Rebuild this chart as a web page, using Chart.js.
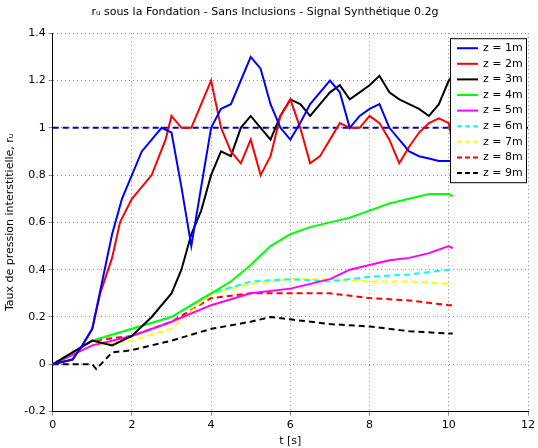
<!DOCTYPE html><html><head><script src="https://cdn.jsdelivr.net/npm/chart.js@4"></script>
<style>body{margin:0;background:#fff}#w{width:538px;height:448px}</style></head><body><div id="w"><canvas id="c"></canvas></div>
<script>
const t1=[0,0.5,0.75,1,1.25,1.5,1.75,2,2.25,2.5,2.75,3,3.25,3.5,3.75,4,4.25,4.5,4.75,5,5.25,5.5,5.75,6,6.25,6.5,6.75,7,7.25,7.5,7.75,8,8.25,8.5,8.75,9,9.25,9.5,9.75,10.1];
const z1=[0,0.02,0.08,0.15,0.35,0.55,0.7,0.8,0.9,0.95,1.0,0.98,0.75,0.5,0.75,1.0,1.08,1.1,1.2,1.3,1.25,1.1,1.0,0.95,1.02,1.1,1.15,1.2,1.15,1.0,1.05,1.08,1.1,1.0,0.95,0.9,0.88,0.87,0.86,0.86];
const t2=[0,0.5,0.75,1,1.2,1.5,1.7,2,2.5,2.85,3,3.25,3.5,3.75,4,4.25,4.5,4.75,5,5.25,5.5,5.75,6,6.25,6.5,6.75,7,7.25,7.5,7.75,8,8.25,8.5,8.75,9,9.25,9.5,9.75,10,10.1];
const z2=[0,0.02,0.08,0.15,0.3,0.45,0.6,0.7,0.8,0.95,1.05,1.0,1.0,1.1,1.2,1.0,0.9,0.85,0.95,0.8,0.88,1.05,1.12,1.0,0.85,0.88,0.95,1.02,1.0,1.0,1.05,1.02,0.95,0.85,0.92,0.98,1.02,1.04,1.02,0.93];
const t3=[0,1,1.5,2,2.5,3,3.25,3.5,3.75,4,4.25,4.5,4.75,5,5.25,5.5,5.75,6,6.25,6.5,6.75,7,7.25,7.5,7.75,8,8.25,8.5,8.75,9,9.25,9.5,9.75,10,10.1];
const z3=[0,0.1,0.08,0.12,0.2,0.3,0.4,0.55,0.65,0.8,0.9,0.88,1.0,1.05,1.0,0.95,1.05,1.12,1.1,1.05,1.1,1.15,1.18,1.12,1.15,1.18,1.22,1.15,1.12,1.1,1.08,1.05,1.1,1.2,1.22];
const t4=[0,1,2,3,3.5,4,4.5,5,5.5,6,6.5,7,7.5,8,8.5,9,9.5,10,10.1];
const z4=[0,0.1,0.15,0.2,0.25,0.3,0.35,0.42,0.5,0.55,0.58,0.6,0.62,0.65,0.68,0.7,0.72,0.72,0.71];
const t5=[0,1,2,3,4,5,6,7,7.5,8,8.5,9,9.5,10,10.1];
const z5=[0,0.08,0.12,0.18,0.25,0.3,0.32,0.36,0.4,0.42,0.44,0.45,0.47,0.5,0.49];
const t6=[0,1,2,3,4,5,6,7,8,9,10,10.1];
const z6=[0,0.1,0.15,0.2,0.3,0.35,0.36,0.35,0.37,0.38,0.4,0.4];
const t7=[0,1,2,3,4,4.5,5,6,7,8,9,10,10.1];
const z7=[0,0.08,0.1,0.15,0.3,0.32,0.34,0.36,0.36,0.35,0.35,0.34,0.34];
const t8=[0,1,2,3,4,5,6,7,8,9,10,10.1];
const z8=[0,0.1,0.12,0.18,0.28,0.3,0.3,0.3,0.28,0.27,0.25,0.25];
const t9=[0,1,1.1,1.5,2,3,4,5,5.5,6,7,8,9,10,10.1];
const z9=[0,0,-0.02,0.05,0.06,0.1,0.15,0.18,0.2,0.19,0.17,0.16,0.14,0.13,0.13];
const labels=['z = 1m','z = 2m','z = 3m','z = 4m','z = 5m','z = 6m','z = 7m','z = 8m','z = 9m'];
const T=[t1,t2,t3,t4,t5,t6,t7,t8,t9],Z=[z1,z2,z3,z4,z5,z6,z7,z8,z9];
const cols=['#0000ff','#ff0000','#000000','#00ff00','#ff00ff','#00ffff','#ffff00','#ff0000','#000000'];
const ds=labels.map((l,i)=>({label:l,data:T[i].map((x,j)=>({x,y:Z[i][j]})),borderColor:cols[i],backgroundColor:cols[i],borderWidth:2,pointRadius:0,tension:0,borderDash:i>=5?[6,4]:[]}));
ds.push({label:'ref',data:[{x:0,y:1},{x:12,y:1}],borderColor:'#0000aa',borderWidth:2,borderDash:[6,4],pointRadius:0});
const F='DejaVu Sans';
const legendBox={id:'lb',afterDatasetsDraw(ch){const c=ch.ctx,a=ch.chartArea;const x0=a.right-78,y0=a.top+5,w=76,h=144;
c.save();c.fillStyle='#fff';c.fillRect(x0,y0,w,h);c.strokeStyle='#000';c.lineWidth=1;c.setLineDash([]);c.strokeRect(x0+0.5,y0+0.5,w,h);
c.font='11px '+F;c.textBaseline='middle';c.fillStyle='#000';
labels.forEach((l,i)=>{const y=y0+10+i*15.6;c.strokeStyle=cols[i];c.lineWidth=2;c.setLineDash(i>=5?[5,3]:[]);c.beginPath();c.moveTo(x0+7,y);c.lineTo(x0+28,y);c.stroke();c.fillText(l,x0+33,y);});
c.restore();}};
const fmt=v=>{const r=Math.round(v*10)/10;return r===0?'0':String(r);};
new Chart(document.getElementById('c'),{type:'line',data:{datasets:ds},plugins:[legendBox],options:{responsive:true,maintainAspectRatio:false,animation:false,
layout:{padding:{right:8}},
plugins:{title:{display:true,text:'rᵤ sous la Fondation - Sans Inclusions - Signal Synthétique 0.2g',font:{family:F,size:11,weight:'normal'},color:'#000',padding:{top:6,bottom:14}},
legend:{display:false}},
scales:{x:{type:'linear',min:0,max:12,ticks:{stepSize:2,font:{family:F,size:11},color:'#000'},grid:{color:'#888',tickLength:4},border:{color:'#000',dash:[1,3]},title:{display:true,text:'t [s]',font:{family:F,size:11},color:'#000',padding:0}},
y:{min:-0.2,max:1.4,ticks:{stepSize:0.2,font:{family:F,size:11},color:'#000',callback:fmt},grid:{color:'#888',tickLength:4},border:{color:'#000',dash:[1,3]},title:{display:true,text:'Taux de pression interstitielle, rᵤ',font:{family:F,size:11},color:'#000'}}}}});
</script></body></html>
